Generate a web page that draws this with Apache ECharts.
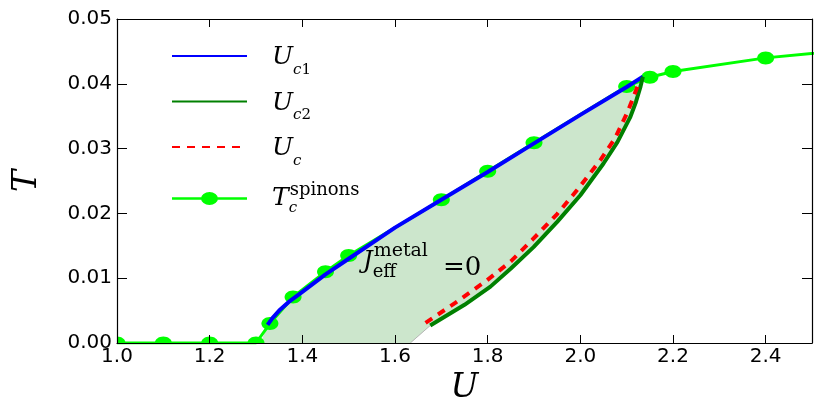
<!DOCTYPE html>
<html><head><meta charset="utf-8">
<script src="https://cdn.jsdelivr.net/npm/echarts@6/dist/echarts.min.js"></script>
<style>html,body{margin:0;padding:0;background:#fff}#c{width:822px;height:415px}</style>
</head><body><div id="c"></div>
<script>
// ---- data ----
const xTickLabels = ['1.0','1.2','1.4','1.6','1.8','2.0','2.2','2.4'];
const yTickLabels = ['0.00','0.01','0.02','0.03','0.04','0.05'];

// T_c^spinons (lime line with markers)
const tcU = [1.0, 1.1, 1.2, 1.3, 1.33, 1.38, 1.45, 1.5, 1.7, 1.8, 1.9, 2.1, 2.15, 2.2, 2.4, 2.6];
const tcT = [0, 0, 0, 0, 0.0030, 0.0071, 0.0110, 0.0135, 0.0221, 0.0265, 0.0309, 0.0396, 0.0410, 0.0419, 0.0440, 0.0454];

// U_c1 (blue)
const uc1U = [1.325, 1.335, 1.35, 1.37, 1.40, 1.45, 1.50, 1.60, 1.70, 1.80, 1.90, 2.00, 2.10, 2.135];
const uc1T = [0.0028, 0.0038, 0.0050, 0.0063, 0.0079, 0.0106, 0.0130, 0.0178, 0.0221, 0.0264, 0.0308, 0.0352, 0.0395, 0.0411];

// U_c2 (dark green)
const uc2U = [1.676, 1.75, 1.806, 1.85, 1.899, 1.95, 2.00, 2.05, 2.08, 2.108, 2.12, 2.130, 2.135];
const uc2T = [0.0027, 0.0059, 0.0087, 0.0115, 0.0148, 0.0187, 0.0228, 0.0277, 0.0310, 0.0349, 0.0372, 0.0396, 0.0411];

// U_c (red dashed)
const ucU = [1.666, 1.73, 1.799, 1.85, 1.896, 1.95, 1.993, 2.043, 2.075, 2.101, 2.115, 2.126, 2.128];
const ucT = [0.0031, 0.0062, 0.0097, 0.0126, 0.0159, 0.0199, 0.0236, 0.0282, 0.0316, 0.0355, 0.0380, 0.0401, 0.0405];

// thin grey edge of the shaded region and its left foot
const edgeU = [1.633, 1.676];
const edgeT = [0, 0.0027];
const fillFootU = 1.31;

// annotation anchor (data coords)
const annotationAt = [1.531, 0.0126];

// ---- build ----
const zip = (a, b) => a.map((v, i) => [v, b[i]]);
const fillPoly = [[fillFootU, 0]]
  .concat(zip(uc1U, uc1T))
  .concat(zip(uc2U, uc2T).reverse())
  .concat([[edgeU[0], edgeT[0]]]);

const SERIF = 'DejaVu Serif';
const legendRich = {
  U:  {fontFamily: SERIF, fontStyle: 'italic', fontSize: 25, lineHeight: 40, color: '#000'},
  si: {fontFamily: SERIF, fontStyle: 'italic', fontSize: 15, lineHeight: 19, verticalAlign: 'bottom', color: '#000'},
  sr: {fontFamily: SERIF, fontSize: 15, lineHeight: 19, verticalAlign: 'bottom', color: '#000'},
  T:  {fontFamily: SERIF, fontStyle: 'italic', fontSize: 25, lineHeight: 34, color: '#000'},
  tc: {fontFamily: SERIF, fontStyle: 'italic', fontSize: 15, lineHeight: 4, verticalAlign: 'bottom', width: 1, color: '#000'},
  tp: {fontFamily: SERIF, fontSize: 18, lineHeight: 20, verticalAlign: 'top', color: '#000'}
};
const legendText = {
  Uc1: '{U|U}{si|c}{sr|1}',
  Uc2: '{U|U}{si|c}{sr|2}',
  Uc:  '{U|U}{si|c}',
  Tc:  '{T|T}{tc|c}{tp|spinons}'
};

const chart = echarts.init(document.getElementById('c'), null, {renderer: 'canvas'});

const axisCommon = {
  type: 'value', z: 10,
  axisLine: {show: true, onZero: false, lineStyle: {color: '#000', width: 1.2}},
  splitLine: {show: false},
};
const hideDot = {opacity: 0};

const option = {
  animation: false,
  backgroundColor: '#fff',
  grid: {left: 117, right: 10, top: 19, bottom: 72, outerBoundsMode: 'none', containLabel: false},
  xAxis: [
    Object.assign({}, axisCommon, {
      position: 'bottom', min: 1.0, max: 2.5, interval: 0.2,
      axisTick: {show: true, inside: true, length: 8, lineStyle: {color: '#000', width: 1}},
      axisLabel: {show: true, margin: 4, color: '#000', fontFamily: 'DejaVu Sans', fontSize: 20,
        showMaxLabel: false, formatter: (v, i) => xTickLabels[i] || ''},
      name: 'U', nameLocation: 'middle', nameGap: 25,
      nameTextStyle: {fontFamily: SERIF, fontStyle: 'italic', fontSize: 33, color: '#000'}
    }),
    Object.assign({}, axisCommon, {
      position: 'top', min: 1.0, max: 2.5, interval: 0.2,
      axisTick: {show: true, inside: true, length: 8, lineStyle: {color: '#000', width: 1}},
      axisLabel: {show: false}
    })
  ],
  yAxis: [
    Object.assign({}, axisCommon, {
      position: 'left', min: 0, max: 0.05, interval: 0.01,
      axisTick: {show: true, inside: true, length: 10, lineStyle: {color: '#000', width: 1}},
      axisLabel: {show: true, margin: 5, color: '#000', fontFamily: 'DejaVu Sans', fontSize: 20,
        formatter: (v, i) => yTickLabels[i] || ''},
      name: 'T', nameLocation: 'middle', nameGap: 73, nameRotate: 90,
      nameTextStyle: {fontFamily: SERIF, fontStyle: 'italic', fontSize: 33, color: '#000'}
    }),
    Object.assign({}, axisCommon, {
      position: 'right', min: 0, max: 0.05, interval: 0.01,
      axisTick: {show: true, inside: true, length: 10, lineStyle: {color: '#000', width: 1}},
      axisLabel: {show: false}
    })
  ],
  legend: {
    orient: 'vertical', left: 171, top: 45, padding: 0, itemGap: 13,
    itemWidth: 75, itemHeight: 13, selectedMode: false,
    itemStyle: {borderWidth: 0},
    textStyle: {color: '#000', rich: legendRich, padding: [3, 0, 0, 20]},
    formatter: name => legendText[name],
    data: [
      {name: 'Uc1', itemStyle: hideDot},
      {name: 'Uc2', itemStyle: hideDot},
      {name: 'Uc',  itemStyle: hideDot},
      {name: 'Tc', textStyle: {padding: [0, 0, 0, 20]},
       icon: 'path://M0,5.2 L75,5.2 L75,7.8 L0,7.8 Z M29,6.5 A8.5,6.5 0 1 1 46,6.5 A8.5,6.5 0 1 1 29,6.5 Z'}
    ]
  },
  series: [
    {
      name: 'fill', type: 'custom', z: 1, clip: true, silent: true,
      data: [fillPoly[0]],
      renderItem: (params, api) => ({
        type: 'polygon',
        shape: {points: fillPoly.map(p => api.coord(p))},
        style: {fill: '#cce6cc', stroke: null}
      })
    },
    {
      name: 'edge', type: 'line', z: 1, silent: true, symbol: 'none',
      data: zip(edgeU, edgeT), lineStyle: {color: '#b4b4b4', width: 1}
    },
    {
      name: 'Tc', type: 'line', z: 2, silent: true, symbol: 'none', clip: true,
      data: zip(tcU, tcT), lineStyle: {color: '#00ff00', width: 3}, itemStyle: {color: '#00ff00'}
    },
    {
      name: 'TcMarkers', type: 'custom', z: 3, clip: true, silent: true,
      data: zip(tcU, tcT), encode: {x: 0, y: 1},
      renderItem: (params, api) => {
        const p = api.coord([api.value(0), api.value(1)]);
        return {type: 'ellipse', shape: {cx: p[0], cy: p[1], rx: 8.5, ry: 6.5}, style: {fill: '#00ff00'}};
      }
    },
    {
      name: 'Uc1', type: 'line', z: 4, silent: true, symbol: 'none',
      data: zip(uc1U, uc1T), lineStyle: {color: '#0000ff', width: 4}, itemStyle: {color: '#0000ff'}
    },
    {
      name: 'Uc2', type: 'line', z: 5, silent: true, symbol: 'none',
      data: zip(uc2U, uc2T), lineStyle: {color: '#008000', width: 4}, itemStyle: {color: '#008000'}
    },
    {
      name: 'Uc', type: 'line', z: 6, silent: true, symbol: 'none',
      data: zip(ucU, ucT), lineStyle: {color: '#ff0000', width: 4, type: [8, 7]}, itemStyle: {color: '#ff0000'}
    }
  ]
};
chart.setOption(option);

const ap = chart.convertToPixel({xAxisIndex: 0, yAxisIndex: 0}, annotationAt);
chart.setOption({
  graphic: [{
    type: 'text', x: ap[0], y: ap[1], z: 20, silent: true,
    style: {
      text: '{j|J}{e|eff}{m|metal}{q|=0}',
      align: 'left', verticalAlign: 'middle',
      rich: {
        j: {fontFamily: SERIF, fontStyle: 'italic', fontSize: 24, lineHeight: 40, color: '#000'},
        e: {fontFamily: SERIF, fontSize: 18, lineHeight: 25, verticalAlign: 'bottom', width: 1, color: '#000'},
        m: {fontFamily: SERIF, fontSize: 19, lineHeight: 35, verticalAlign: 'top', color: '#000'},
        q: {fontFamily: SERIF, fontSize: 26, lineHeight: 36, verticalAlign: 'bottom', padding: [0, 0, 0, 15], color: '#000'}
      }
    }
  }]
});
</script>
</body></html>
